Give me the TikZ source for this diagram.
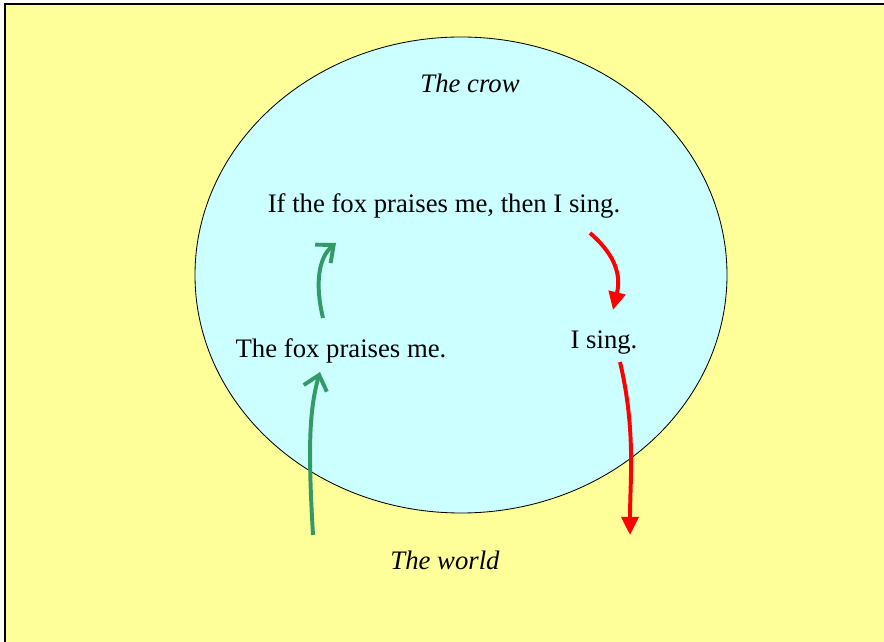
\documentclass[tikz,border=0pt]{standalone}
\usepackage{fontspec}
\setmainfont{Liberation Serif}
\usepackage{xcolor}
\usetikzlibrary{arrows.meta}
\definecolor{worldcolor}{RGB}{255,255,153}
\definecolor{crowcolor}{RGB}{204,255,255}
\definecolor{goodcolor}{RGB}{51,153,102}
\definecolor{badcolor}{RGB}{255,0,0}

\begin{document}
\begin{tikzpicture}[
    x=0.025cm, y=-0.025cm,
    txt/.style={font=\fontsize{19}{22}\selectfont, inner sep=0pt},
    title/.style={txt, font=\fontsize{19}{22}\selectfont\itshape},
    up/.style={line width=2.8pt, goodcolor, -{Straight Barb[length=3.5mm, width=6mm, line width=2.8pt]}},
    down/.style={line width=2.8pt, badcolor, -{Triangle[length=4.5mm, width=4.2mm]}},
]
    \useasboundingbox (0,0) rectangle (884,642);
    % the world
    \fill[worldcolor] (5,4) rectangle (884,642);
    \draw[line width=1.5pt] (5,642) -- (5,4) -- (884,4);

    % the crow
    \draw[fill=crowcolor, line width=0.6pt] (461,275) ellipse [x radius=266, y radius=238];
    \node[title] (crow) at (470,83) {The crow};
    \node[title] (world) at (445,560) {The world};

    \node[txt] (rule) at (444,206) {If the fox praises me, then I sing.};
    \node[txt] (fact) at (341,351) {The fox praises me.};
    \node[txt] (sing) at (604,343) {I sing.};

    \coordinate (in0) at (313,535);
    \coordinate (in1) at (320,372);
    \coordinate (up0) at (323,318);
    \coordinate (up1) at (336,243);
    \coordinate (dn0) at (590,233);
    \coordinate (dn1) at (613,310);
    \coordinate (out0) at (620,362);
    \coordinate (out1) at (630,535);

    \draw[up] (in0) .. controls (308,450) and (309,410) .. (in1);
    \draw[up] (up0) .. controls (315,285) and (318,258) .. (up1);
    \draw[down] (dn0) .. controls (612,252) and (622,272) .. (dn1);
    \draw[down] (out0) .. controls (636,430) and (630,480) .. (out1);
\end{tikzpicture}
\end{document}
